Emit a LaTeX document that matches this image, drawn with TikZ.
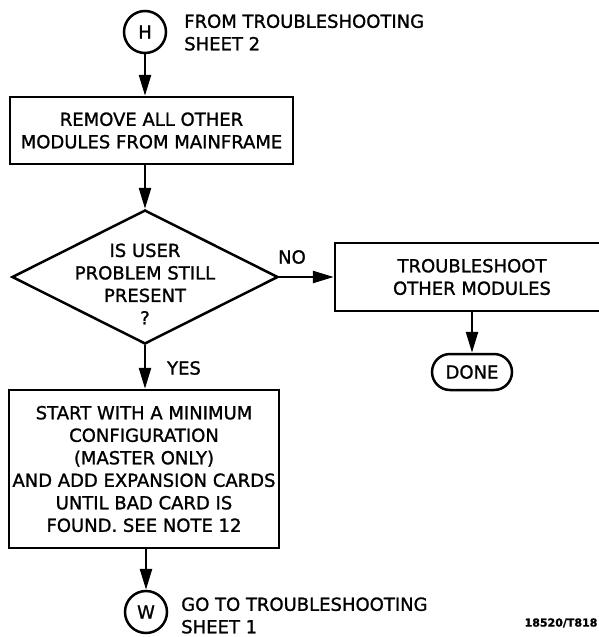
\documentclass[tikz,border=0pt]{standalone}
\usepackage{fontspec}
\setmainfont[FakeBold=1.2]{DejaVu Sans}
\usetikzlibrary{arrows.meta,positioning,shapes.geometric}

\begin{document}
\begin{tikzpicture}[x=1pt, y=-1pt, line width=2.5pt,
  >={Triangle[length=21pt,width=12pt]},
  every node/.style={font=\fontsize{18}{22.5}\selectfont},
  connector/.style={circle, draw, minimum size=42pt, inner sep=0pt},
  stepbox/.style={draw, align=center, inner sep=0pt},
  decision/.style={diamond, draw, minimum width=266pt, minimum height=134pt, inner sep=0pt},
  endbox/.style={draw, rounded corners=18pt, minimum width=80pt, minimum height=36pt, inner sep=0pt},
  note/.style={anchor=west, align=left, inner sep=0pt}]
  \useasboundingbox (0,0) rectangle (599,637);

  % entry connector
  \node[connector] (H) at (145,32) {H};
  \node[note] (fromtxt) at (183,32.5) {FROM TROUBLESHOOTING\\SHEET 2};

  % main column
  \node[stepbox, minimum width=283pt, minimum height=67pt] (remove) at (151.5,130.5)
    {REMOVE ALL OTHER\\MODULES FROM MAINFRAME};
  \node[decision] (ask) at (145,277) {};
  \node[align=center] (asktxt) at (145,284) {IS USER\\PROBLEM STILL\\PRESENT\\?};
  \node[stepbox, minimum width=270pt, minimum height=158pt] (minconf) at (144,469)
    {START WITH A MINIMUM\\CONFIGURATION\\(MASTER ONLY)\\AND ADD EXPANSION CARDS\\UNTIL BAD CARD IS\\FOUND. SEE NOTE 12};
  \node[connector] (W) at (146,612) {W};
  \node[note] (gotxt) at (180,615.5) {GO TO TROUBLESHOOTING\\SHEET 1};

  % side branch
  \node[stepbox, minimum width=274pt, minimum height=68pt] (other) at (472,277)
    {TROUBLESHOOT\\OTHER MODULES};
  \node[endbox] (done) at (472,372) {DONE};

  % connectors
  \draw[->] (H.south) -- (H.south |- remove.north);
  \draw[->] (ask.north |- remove.south) -- (ask.north);
  \draw[->] (ask.east) -- (other.west);
  \draw[->] (ask.south) -- (ask.south |- minconf.north);
  \draw[->] (W.north |- minconf.south) -- (W.north);
  \draw[->] (other.south) -- (done.north);

  % branch labels
  \node (no) at (292,257) {NO};
  \node (yes) at (184,368) {YES};

  \node[font=\fontsize{11}{13}\selectfont\bfseries] (tag) at (561,623) {18520/T818};
\end{tikzpicture}
\end{document}
